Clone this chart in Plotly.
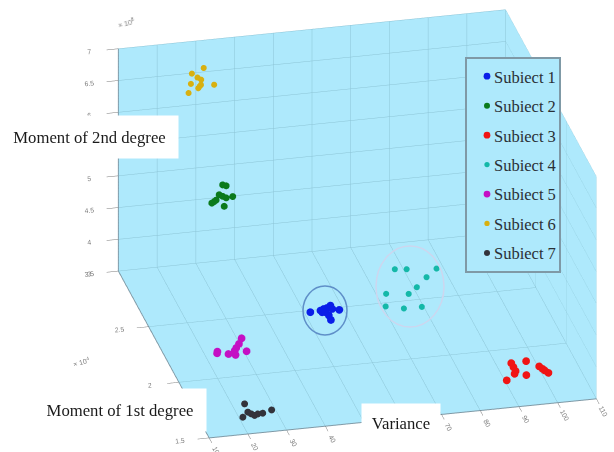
import plotly.graph_objects as go

names = ["Subiect 1", "Subiect 2", "Subiect 3", "Subiect 4", "Subiect 5", "Subiect 6", "Subiect 7"]
colors = ["#0a1ee8", "#0b7a1c", "#f01414", "#14b8a8", "#c40fc4", "#d8b010", "#33333b"]
sizes = [4.5, 4, 4.5, 3.5, 4.5, 3.5, 4]

variance = [
    [51.0, 53.7, 54.7, 55.7, 56.8, 54.7, 55.1, 55.0, 58.4, 53.9, 56.8],
    [36.6, 37.5, 35.7, 36.6, 37.5, 34.9, 33.8, 34.4, 39.2, 37.0],
    [93.4, 93.4, 93.4, 92.8, 90.0, 97.3, 95.5, 99.8, 100.3, 100.6, 101.2],
    [77.4, 80.3, 87.7, 84.1, 80.4, 77.5, 72.0, 70.2, 74.4, 79.0],
    [23.0, 22.7, 25.4, 27.0, 28.1, 30.7, 29.3, 30.2, 27.4],
    [31.7, 28.65, 30.1, 31.06, 28.4, 31.0, 30.3, 34.4, 27.8, 30.7],
    [22.7, 20.5, 22.4, 23.0, 23.6, 24.6, 25.9, 28.5],
]
moment1 = [
    [2.453, 2.458, 2.469, 2.475, 2.492, 2.44, 2.409, 2.369, 2.448, 2.442, 2.462],
    [2.98, 2.98, 2.98, 2.98, 2.98, 2.98, 2.98, 2.98, 2.98, 2.98],
    [1.846, 1.81, 1.774, 1.752, 1.703, 1.85, 1.731, 1.794, 1.77, 1.755, 1.731],
    [2.746, 2.736, 2.716, 2.651, 2.574, 2.524, 2.544, 2.437, 2.404, 2.402],
    [2.197, 2.183, 2.167, 2.153, 2.212, 2.29, 2.244, 2.175, 2.191],
    [2.98, 2.98, 2.98, 2.98, 2.98, 2.98, 2.98, 2.98, 2.98, 2.98],
    [1.728, 1.616, 1.655, 1.637, 1.621, 1.631, 1.633, 1.653],
]
moment2 = [
    [3.56, 3.56, 3.56, 3.56, 3.56, 3.56, 3.56, 3.56, 3.56, 3.56, 3.56],
    [4.73, 4.71, 4.58, 4.55, 4.52, 4.50, 4.46, 4.48, 4.53, 4.39],
    [3.56, 3.56, 3.56, 3.56, 3.56, 3.56, 3.56, 3.56, 3.56, 3.56, 3.56],
    [3.56, 3.56, 3.56, 3.56, 3.56, 3.56, 3.56, 3.56, 3.56, 3.56],
    [3.56, 3.56, 3.56, 3.56, 3.56, 3.56, 3.56, 3.56, 3.56],
    [6.60, 6.53, 6.46, 6.42, 6.37, 6.34, 6.29, 6.32, 6.23, 6.32],
    [3.56, 3.56, 3.56, 3.56, 3.56, 3.56, 3.56, 3.56],
]
x_ticks = [10, 20, 30, 40, 50, 60, 70, 80, 90, 100, 110]
y_ticks = [1.5, 2, 2.5, 3]
z_ticks = [3.5, 4, 4.5, 5, 5.5, 6, 6.5, 7]

WALL = "#aee9fc"
GRID = "#8cc4d6"
LINE = "#7f99a6"
TICK = "#7a7a7a"
SERIF = "Liberation Serif"

fig = go.Figure()
for name, color, size, xs, ys, zs in zip(names, colors, sizes, variance, moment1, moment2):
    fig.add_trace(go.Scatter3d(
        x=xs, y=ys, z=zs, mode="markers", name=name, legendgroup=name,
        marker=dict(size=size, color=color, line=dict(width=0)),
    ))

def axis(ticks, rng):
    return dict(
        range=rng, tickvals=ticks, title=dict(text=""),
        showbackground=True, backgroundcolor=WALL,
        showgrid=True, gridcolor=GRID, gridwidth=1,
        showline=True, linecolor=LINE, linewidth=2,
        ticks="outside", ticklen=12, tickcolor=TICK, tickwidth=1,
        tickfont=dict(family="Liberation Sans", size=9, color=TICK),
        zeroline=False, showspikes=False,
    )

k = 3.0
dirn = (-0.206, -0.879, 0.431)
center = (-0.218, 0.047, -0.009)
fig.update_layout(
    width=614, height=452, margin=dict(l=0, r=0, t=0, b=0),
    paper_bgcolor="white",
    scene=dict(
        domain=dict(x=[0, 1], y=[0, 1]),
        xaxis=axis(x_ticks, [10, 110]),
        yaxis=axis(y_ticks, [1.5, 3]),
        zaxis=axis(z_ticks, [3.5, 7]),
        aspectmode="manual", aspectratio=dict(x=1.76, y=1.76, z=1.09),
        camera=dict(
            projection=dict(type="orthographic"),
            up=dict(x=0, y=0, z=1),
            center=dict(x=center[0], y=center[1], z=center[2]),
            eye=dict(x=center[0] + k*dirn[0], y=center[1] + k*dirn[1], z=center[2] + k*dirn[2]),
        ),
    ),
    legend=dict(
        x=465/614, y=1 - 57/452, xanchor="left", yanchor="top",
        bgcolor=WALL, bordercolor=LINE, borderwidth=2,
        font=dict(family=SERIF, size=16.5, color="#2a3036"),
        tracegroupgap=5, itemsizing="trace", entrywidth=31, entrywidthmode="pixels",
    ),
    annotations=[
        dict(text="Moment of 2nd degree", xref="paper", yref="paper", x=0, y=1 - 115/452,
             xanchor="left", yanchor="top", showarrow=False, bgcolor="white",
             width=175, height=40, font=dict(family=SERIF, size=16.7, color="#1a1a1a")),
        dict(text="Moment of 1st degree", xref="paper", yref="paper", x=33/614, y=1 - 388/452,
             xanchor="left", yanchor="top", showarrow=False, bgcolor="white",
             width=170, height=40, font=dict(family=SERIF, size=16.7, color="#1a1a1a")),
        dict(text="Variance", xref="paper", yref="paper", x=361/614, y=1 - 403/452,
             xanchor="left", yanchor="top", showarrow=False, bgcolor="white",
             width=76, height=36, font=dict(family=SERIF, size=16.7, color="#1a1a1a")),
        dict(text="× 10<sup>8</sup>", xref="paper", yref="paper", x=126/614, y=1 - 23/452,
             xanchor="center", yanchor="middle",
             showarrow=False, textangle=-15, font=dict(family="Liberation Sans", size=7, color=TICK)),
        dict(text="× 10<sup>4</sup>", xref="paper", yref="paper", x=81/614, y=1 - 362/452,
             xanchor="center", yanchor="middle",
             showarrow=False, textangle=-15, font=dict(family="Liberation Sans", size=7, color=TICK)),
    ],
    shapes=[
        dict(type="circle", xref="paper", yref="paper", x0=303/614, x1=347/614, y0=1 - 335/452, y1=1 - 286/452,
             line=dict(color="#5f8fc8", width=1.5)),
        dict(type="circle", xref="paper", yref="paper", x0=376/614, x1=444/614, y0=1 - 327/452, y1=1 - 246/452,
             line=dict(color="#cdd6ee", width=1.5)),
    ],
)
post = """
document.body.style.margin = '0';
var gd = document.getElementById('{plot_id}');
function nudge() {
  document.querySelectorAll('.legendtext').forEach(function (t) { t.setAttribute('x', '27'); });
  document.querySelectorAll('.legend rect.bg').forEach(function (r) { r.setAttribute('width', '94'); });
  document.querySelectorAll('.legendpoints path.scatterpts').forEach(function (p) {
    var t = p.getAttribute('transform') || '';
    if (t.indexOf('scale') < 0) { p.setAttribute('transform', t + ' scale(1.5)'); }
  });
}
nudge();
gd.on('plotly_afterplot', nudge);
setTimeout(nudge, 200);
"""
fig.write_html("out.html", post_script=post, config=dict(displayModeBar=False))
